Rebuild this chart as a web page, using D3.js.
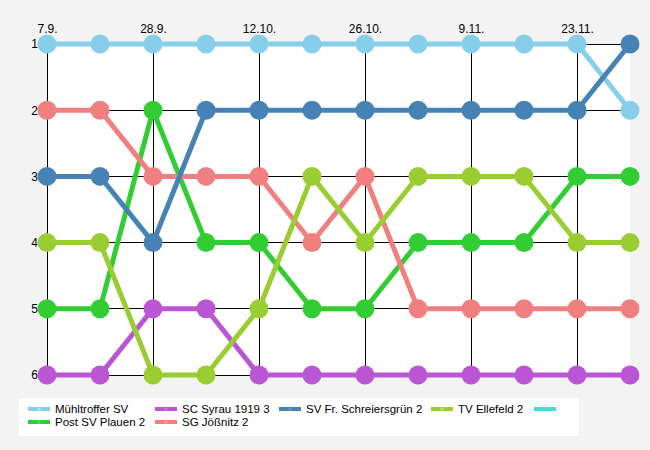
<!DOCTYPE html>
<html><head><meta charset="utf-8">
<script src="https://cdn.jsdelivr.net/npm/d3@7"></script>
<style>body{margin:0;background:#f3f3f3;}svg{display:block;}</style>
</head><body>
<script>
const rounds = [1,2,3,4,5,6,7,8,9,10,11,12];
const tickLabels = ["7.9.", "", "28.9.", "", "12.10.", "", "26.10.", "", "9.11.", "", "23.11.", ""];
const ranks = [1,2,3,4,5,6];
const seriesNames = ["Mühltroffer SV", "Post SV Plauen 2", "SC Syrau 1919 3", "SG Jößnitz 2", "SV Fr. Schreiersgrün 2", "TV Ellefeld 2", ""];
const seriesColors = ["#87CEEB", "#32CD32", "#BA55D3", "#F08080", "#4682B4", "#9ACD32", "#40E0D0"];
const muehltroffer = [1,1,1,1,1,1,1,1,1,1,1,2];
const postPlauen   = [5,5,2,4,4,5,5,4,4,4,3,3];
const syrau        = [6,6,5,5,6,6,6,6,6,6,6,6];
const joessnitz    = [2,2,3,3,3,4,3,5,5,5,5,5];
const schreiers    = [3,3,4,2,2,2,2,2,2,2,2,1];
const ellefeld     = [4,4,6,6,5,3,4,3,3,3,4,4];
const emptySeries  = [];
const seriesValues = [muehltroffer, postPlauen, syrau, joessnitz, schreiers, ellefeld, emptySeries];

const W = 650, H = 450;
const svg = d3.select("body").append("svg").attr("width", W).attr("height", H)
  .style("font-family", "'Liberation Sans', Arial, sans-serif");
svg.append("rect").attr("width", W).attr("height", H).attr("fill", "#f3f3f3");

const x = d3.scalePoint().domain(rounds).range([47, 630]);
const y = d3.scaleLinear().domain([1, 6]).range([44, 375]);

// plot background
svg.append("rect").attr("x", 47).attr("y", 44).attr("width", 630 - 47).attr("height", 375 - 44).attr("fill", "#fff");

// grid
const majorRounds = rounds.filter((d, i) => i % 2 === 0);
svg.append("g").selectAll("line").data(majorRounds).join("line")
  .attr("x1", d => x(d)).attr("x2", d => x(d)).attr("y1", 39).attr("y2", 375)
  .attr("stroke", "#000").attr("stroke-width", 1).attr("shape-rendering", "crispEdges");
svg.append("g").selectAll("line").data(ranks).join("line")
  .attr("x1", 41).attr("x2", 630).attr("y1", d => y(d)).attr("y2", d => y(d))
  .attr("stroke", "#000").attr("stroke-width", 1).attr("shape-rendering", "crispEdges");

// axes labels
const xAxis = d3.axisTop(x).tickValues(majorRounds).tickFormat(d => tickLabels[rounds.indexOf(d)]).tickSize(0).tickPadding(0);
const gx = svg.append("g").attr("transform", "translate(0,33)").call(xAxis);
gx.select(".domain").remove();
gx.selectAll("text").attr("font-size", 12).attr("fill", "#000").attr("font-family", "'Liberation Sans', Arial, sans-serif").attr("dy", 0);

const yAxis = d3.axisLeft(y).tickValues(ranks).tickFormat(d3.format("d")).tickSize(0).tickPadding(0);
const gy = svg.append("g").attr("transform", "translate(38,0)").call(yAxis);
gy.select(".domain").remove();
gy.selectAll("text").attr("font-size", 12).attr("fill", "#000").attr("font-family", "'Liberation Sans', Arial, sans-serif");

// series
const line = d3.line().x((d, i) => x(rounds[i])).y(d => y(d));
seriesValues.forEach((vals, si) => {
  if (!vals.length) return;
  const g = svg.append("g");
  g.append("path").datum(vals).attr("d", line).attr("fill", "none")
    .attr("stroke", seriesColors[si]).attr("stroke-width", 5);
  g.selectAll("circle").data(vals).join("circle")
    .attr("cx", (d, i) => x(rounds[i])).attr("cy", d => y(d)).attr("r", 9.5)
    .attr("fill", seriesColors[si]);
});

// legend
const lg = svg.append("g");
lg.append("rect").attr("x", 19).attr("y", 398).attr("width", 560).attr("height", 38).attr("fill", "#fff");
const legendPos = [
  [28, 409], [28, 422], [155, 409], [155, 422], [279, 409], [431, 409], [534, 409]
];
seriesNames.forEach((name, i) => {
  const [lx, ly] = legendPos[i];
  lg.append("line").attr("x1", lx).attr("x2", lx + 22).attr("y1", ly).attr("y2", ly)
    .attr("stroke", seriesColors[i]).attr("stroke-width", 4);
  if (name) {
    lg.append("circle").attr("cx", lx + 11).attr("cy", ly).attr("r", 1.8).attr("fill", d3.color(seriesColors[i]).brighter(0.4));
    lg.append("text").attr("x", lx + 27).attr("y", ly).attr("dy", "0.35em")
      .attr("font-size", 11.5).attr("fill", "#000").text(name);
  }
});
</script>
</body></html>
